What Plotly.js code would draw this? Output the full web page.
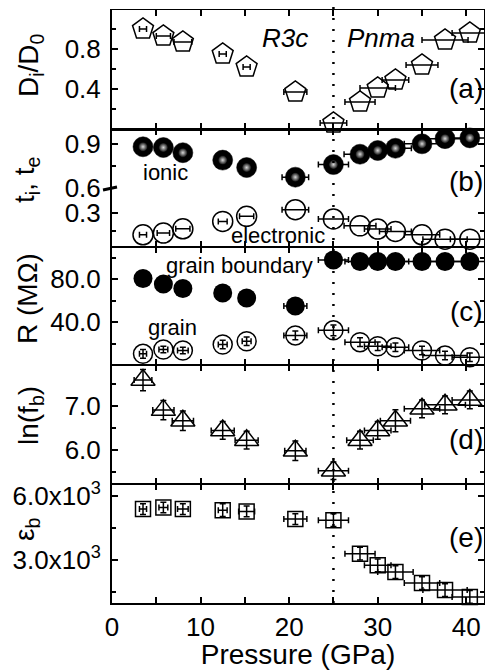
<!DOCTYPE html>
<html>
<head>
<meta charset="utf-8">
<script src="https://cdn.plot.ly/plotly-3.0.1.min.js"></script>
<style>html,body{margin:0;padding:0;background:#fff;}#chart{width:485px;height:670px;}</style>
</head>
<body>
<div id="chart"></div>
<script>
// Pressure (GPa)
const pressure = [3.5, 5.8, 8.0, 12.5, 15.2, 20.7, 25.0, 28.0, 30.0, 32.0, 35.0, 37.6, 40.4];
// (a) Di/D0
const dRatio = [1.00, 0.93, 0.87, 0.75, 0.62, 0.37, 0.06, 0.27, 0.41, 0.49, 0.64, 0.89, 0.96];
const dRatioErrP = [0.4, 0.8, 1.0, 0.4, 0.4, 1.3, 1.5, 1.7, 2.0, 1.5, 1.8, 2.6, 2.0];
// (b) transference numbers
const tIonic = [0.88, 0.875, 0.84, 0.79, 0.74, 0.675, 0.76, 0.83, 0.855, 0.87, 0.90, 0.935, 0.94];
const tElectronic = [0.114, 0.129, 0.165, 0.228, 0.271, 0.328, 0.249, 0.19, 0.163, 0.142, 0.114, 0.077, 0.077];
const tErrP = [0.4, 0.7, 0.8, 0.5, 0.8, 1.5, 1.7, 1.8, 1.5, 1.8, 2.0, 2.5, 2.2];
// (c) resistance (MOhm)
const rGB = [80.7, 75.4, 71.3, 67.2, 62.5, 55.0, 97.9, 96.5, 96.5, 96.5, 96.5, 96.5, 96.5];
const rGrain = [10.4, 14.4, 13.5, 19.1, 22.2, 27.6, 32.3, 21.3, 17.5, 16.6, 13.5, 8.8, 7.2];
const rGrainErr = [4, 3, 3, 4, 4, 4, 5, 4, 4, 4, 4, 4, 4];
const rErrP = [0.4, 0.5, 0.6, 0.5, 0.5, 1.3, 1.7, 1.7, 1.5, 1.5, 2.0, 2.5, 2.0];
// (d) ln(fb)
const lnFb = [7.58, 6.90, 6.66, 6.44, 6.22, 5.98, 5.53, 6.22, 6.44, 6.66, 6.93, 7.02, 7.13];
const lnFbErr = [0.24, 0.22, 0.22, 0.2, 0.2, 0.22, 0.2, 0.2, 0.2, 0.25, 0.2, 0.2, 0.2];
const lnFbErrP = [1.0, 1.2, 1.2, 1.3, 1.3, 1.2, 1.7, 1.5, 1.5, 1.7, 2.0, 2.3, 2.0];
// (e) epsilon_b
const epsB = [5380, 5456, 5380, 5330, 5270, 4910, 4860, 3280, 2735, 2420, 1900, 1570, 1250];
const epsBErr = [250, 250, 250, 300, 250, 250, 300, 300, 300, 300, 300, 300, 300];
const epsBErrP = [0.4, 0.5, 0.6, 0.5, 0.9, 1.3, 1.7, 1.7, 1.5, 2.0, 2.0, 2.5, 2.0];

const yTickVals = {
  a: [0.4, 0.8], b_up: [0.6, 0.9], b_lo: [0.3], c: [40, 80], d: [6, 7], e: [3000, 6000]
};
const yTickText = {
  a: ['0.4', '0.8'], b_up: ['0.6', '0.9'], b_lo: ['0.3'], c: ['40.0', '80.0'], d: ['6.0', '7.0'],
  e: ['3.0x10<sup>3</sup>', '6.0x10<sup>3</sup>']
};
const yMinor = { a: [0.2, 0.6, 1.0], b_up: [0.75], b_lo: [0.15], c: [20, 60, 100], d: [5.5, 6.5, 7.5], e: [1500, 4500] };

const FONT = 'Arial, "Liberation Sans", sans-serif';
const H = 593, W = 372, T = 10, L = 112;
function py(p) { return (T + H - p) / H; }
function px(p) { return (p - L) / W; }

function errx(arr) {
  return { type: 'data', array: arr, visible: true, color: 'black', thickness: 1.5, width: 3 };
}
function erry(arr) {
  return { type: 'data', array: arr, visible: true, color: 'black', thickness: 1.5, width: 3 };
}

const traces = [
  { x: pressure, y: dRatio, xaxis: 'x6', yaxis: 'y6', mode: 'markers', cliponaxis: false,
    marker: { symbol: 'pentagon-open', size: 22, color: 'black', line: { width: 1.5, color: 'black' } },
    error_x: errx(dRatioErrP) },
  { x: pressure, y: tIonic, xaxis: 'x5', yaxis: 'y5', mode: 'markers', cliponaxis: false,
    marker: { symbol: 'circle', size: 20, color: 'black', line: { width: 0.5, color: 'black' } },
    error_x: errx(tErrP) },
  { x: pressure, y: tIonic, xaxis: 'x5', yaxis: 'y5', mode: 'markers', cliponaxis: false,
    marker: { symbol: 'circle', size: 9, color: '#111', gradient: { type: 'radial', color: '#d8d8d8' }, line: { width: 0 } } },
  { x: pressure, y: tElectronic, xaxis: 'x4', yaxis: 'y4', mode: 'markers', cliponaxis: false,
    marker: { symbol: 'circle-open', size: 20, color: 'black', line: { width: 1.5, color: 'black' } },
    error_x: errx(tErrP) },
  { x: pressure, y: rGB, xaxis: 'x3', yaxis: 'y3', mode: 'markers', cliponaxis: false,
    marker: { symbol: 'circle', size: 19, color: 'black' },
    error_x: errx(rErrP) },
  { x: pressure, y: rGrain, xaxis: 'x3', yaxis: 'y3', mode: 'markers', cliponaxis: false,
    marker: { symbol: 'circle-open', size: 19, color: 'black', line: { width: 1.5, color: 'black' } },
    error_x: errx(rErrP), error_y: erry(rGrainErr) },
  { x: pressure, y: lnFb, xaxis: 'x2', yaxis: 'y2', mode: 'markers', cliponaxis: false,
    marker: { symbol: 'triangle-up-open', size: 21, color: 'black', line: { width: 1.5, color: 'black' } },
    error_x: errx(lnFbErrP), error_y: erry(lnFbErr) },
  { x: pressure, y: epsB, xaxis: 'x', yaxis: 'y', mode: 'markers', cliponaxis: false,
    marker: { symbol: 'square-open', size: 15, color: 'black', line: { width: 1.5, color: 'black' } },
    error_x: errx(epsBErrP), error_y: erry(epsBErr) }
];

const tickStyle = {
  showline: true, linewidth: 2, linecolor: 'black', ticks: 'inside', ticklen: 6, tickwidth: 2,
  tickcolor: 'black', showgrid: false, zeroline: false, fixedrange: true
};
function xAx(anchor, extra) {
  return Object.assign({}, tickStyle, {
    anchor: anchor, range: [0, 42], tick0: 0, dtick: 10, mirror: 'ticks', linewidth: 1,
    minor: { dtick: 5, tick0: 0, ticks: 'inside', ticklen: 6, tickwidth: 2, tickcolor: 'black' },
    showticklabels: false
  }, extra || {});
}
function yAx(key, domain, range, extra) {
  return Object.assign({}, tickStyle, {
    domain: domain, range: range, mirror: 'ticks', tickmode: 'array',
    tickvals: yTickVals[key], ticktext: yTickText[key],
    tickfont: { family: FONT, size: 26, color: 'black' }, ticklabelstandoff: 4,
    minor: { tickmode: 'array', tickvals: yMinor[key], ticks: 'inside', ticklen: 4, tickwidth: 2, tickcolor: 'black' }
  }, extra || {});
}

const dE = [0, py(484)], dD = [py(484), py(365)], dC = [py(365), py(247)],
      dBlo = [py(247), py(188.3)], dBup = [py(188.3), py(129)], dA = [py(129), 1];

function ann(text, x, y, size, extra) {
  return Object.assign({ text: text, x: x, y: y, xref: 'paper', yref: 'paper', xanchor: 'center', yanchor: 'middle',
    showarrow: false, font: { family: FONT, size: size, color: 'black' } }, extra || {});
}

const layout = {
  width: 485, height: 670,
  margin: { l: L, r: 1, t: T, b: 67 },
  paper_bgcolor: 'white', plot_bgcolor: 'white',
  showlegend: false,
  font: { family: FONT, color: 'black' },
  xaxis: xAx('y', { showticklabels: true, linewidth: 1.5, tickfont: { family: FONT, size: 26, color: 'black' },
    title: { text: 'Pressure (GPa)', font: { family: FONT, size: 28, color: 'black' }, standoff: 4 } }),
  xaxis2: xAx('y2', { matches: 'x' }),
  xaxis3: xAx('y3', { matches: 'x' }),
  xaxis4: xAx('y4', { matches: 'x', mirror: false, side: 'bottom' }),
  xaxis5: xAx('y5', { matches: 'x', mirror: false, side: 'top' }),
  xaxis6: xAx('y6', { matches: 'x', linewidth: 1.5 }),
  yaxis: yAx('e', dE, [963, 6560], { anchor: 'x' }),
  yaxis2: yAx('d', dD, [5.23, 7.92], { anchor: 'x2' }),
  yaxis3: yAx('c', dC, [0, 110], { anchor: 'x3' }),
  yaxis4: yAx('b_lo', dBlo, [0.01, 0.51], { anchor: 'x4' }),
  yaxis5: yAx('b_up', dBup, [0.5999, 1.0], { anchor: 'x5' }),
  yaxis6: yAx('a', dA, [0, 1.19], { anchor: 'x6' }),
  shapes: [
    { type: 'line', xref: 'x', yref: 'paper', x0: 25, x1: 25, y0: 0, y1: py(4),
      line: { color: 'black', width: 2.5, dash: '2px,9px' } },
    { type: 'line', xref: 'paper', yref: 'paper', x0: px(103), x1: px(117), y0: py(190), y1: py(187),
      line: { color: 'black', width: 3 } }
  ],
  annotations: [
    ann('<i>R3c</i>', px(285), py(38), 26),
    ann('<i>Pnma</i>', px(381), py(38), 26),
    ann('(a)', 1.003, py(88), 28, { xanchor: 'right' }),
    ann('(b)', 1.003, py(181), 28, { xanchor: 'right' }),
    ann('(c)', 1.003, py(311), 28, { xanchor: 'right' }),
    ann('(d)', 1.003, py(440), 28, { xanchor: 'right' }),
    ann('(e)', 1.003, py(537), 28, { xanchor: 'right' }),
    ann('ionic', px(165), py(172), 22),
    ann('electronic', px(278), py(235), 22),
    ann('grain boundary', px(239), py(265), 22),
    ann('grain', px(172), py(328), 22),
    ann('D<sub>i</sub>/D<sub>0</sub>', px(30), py(65), 28, { textangle: -90 }),
    ann('t<sub>i</sub>, t<sub>e</sub>', px(27), py(180), 28, { textangle: -90 }),
    ann('R (M\u03A9)', px(27), py(299), 28, { textangle: -90 }),
    ann('ln(f<sub>b</sub>)', px(30), py(416), 28, { textangle: -90 }),
    ann('\u03B5<sub>b</sub>', px(26), py(530), 28, { textangle: -90 })
  ]
};

Plotly.newPlot('chart', traces, layout, { staticPlot: true, displayModeBar: false });
</script>
</body>
</html>
